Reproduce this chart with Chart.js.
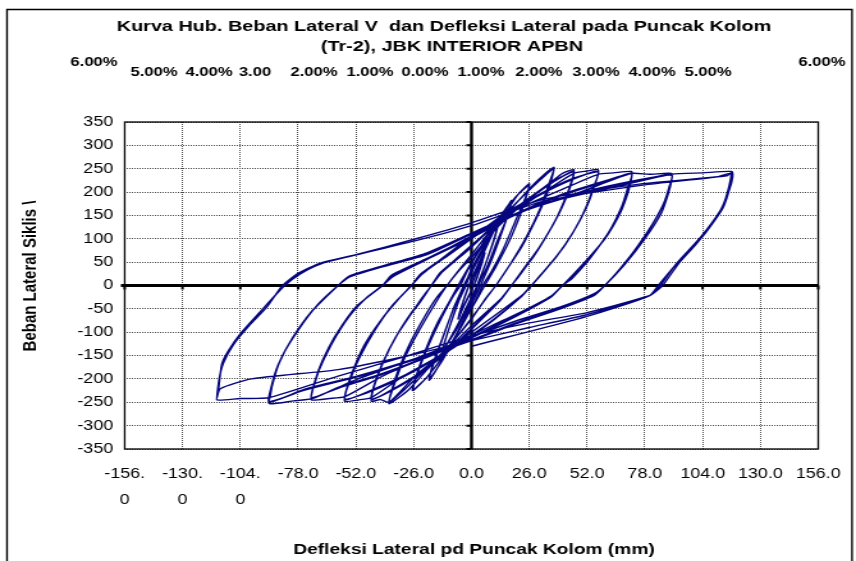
<!DOCTYPE html>
<html>
<head>
<meta charset="utf-8">
<title>Kurva Hub. Beban Lateral V dan Defleksi Lateral</title>
<script src="https://cdn.jsdelivr.net/npm/chart.js@4.4.1/dist/chart.umd.min.js"></script>
<style>
  html, body { margin: 0; padding: 0; background: #fff; }
</style>
</head>
<body>
<canvas id="grafik" width="669" height="561" style="display:block;width:856px;height:561px"></canvas>
<script>
// data: [defleksi (mm), beban (kN)], per tingkat amplitudo
const siklus1 = [[0,0],[3,35],[6,70],[4.5,45],[2,10],[0,-10],[-3,-38],[-6,-72],[-4.5,-45],[-2,-10],[0,12],[3,40],[6,68],[4,38],[1.5,5],[0,-12],[-3,-40],[-6,-70],[-4,-38],[-1.5,-5]];
const siklus2 = [[0,15],[6,75],[12,135],[10.5,105],[7,55],[3,5],[0,-25],[-6,-82],[-13,-140],[-11,-105],[-7,-50],[-3,0],[0,28],[6,82],[12,132],[10,95],[6,42],[2.5,0],[0,-30],[-6,-88],[-13,-138],[-10.5,-98],[-6.5,-42],[-2.5,0]];
const siklus3 = [[0,30],[7,92],[13,142],[18,182],[17,160],[14,118],[9.5,60],[4.5,5],[1,-30],[-5,-88],[-12,-150],[-19,-203],[-17.5,-170],[-13.5,-118],[-8.5,-55],[-3.5,0],[0,32],[7,97],[13,147],[18,180],[16,145],[12,100],[7.5,45],[3,0],[0,-36],[-6,-100],[-13,-160],[-19,-200],[-16.5,-160],[-12,-100],[-7.5,-42],[-3,0]];
const siklus4 = [[0,36],[8,102],[16,160],[21,195],[26,218],[25,195],[22,152],[17,95],[11,40],[6,0],[3,-25],[-4,-82],[-12,-146],[-20,-196],[-26.5,-225],[-25,-195],[-21,-142],[-15.5,-82],[-10,-35],[-6,0],[-3,25],[4,82],[12,142],[20,190],[26,215],[24,185],[19.5,135],[14,75],[9,30],[5,0],[2,-30],[-5,-92],[-13,-152],[-20,-196],[-26,-222],[-24,-185],[-19,-125],[-13,-65],[-8.5,-25],[-5,0]];
const siklus5 = [[-2,30],[5,85],[14,142],[22,186],[30,226],[37,253],[36.5,236],[34,196],[29,142],[22.5,82],[16,35],[11,0],[7,-25],[0,-70],[-10,-130],[-20,-180],[-28,-222],[-37,-253],[-36,-226],[-33,-182],[-27.5,-122],[-20.5,-62],[-15.5,-25],[-11,0],[-7,25],[0,66],[10,126],[20,176],[30,222],[37,250],[35,220],[31,166],[24.5,102],[17.5,46],[11,0],[6,-30],[0,-72],[-10,-128],[-20,-176],[-30,-222],[-37,-250],[-35,-216],[-30.5,-160],[-23.5,-96],[-16.5,-40],[-11,0]];
const siklus6 = [[-6,30],[0,60],[12,126],[25,182],[37,226],[41,240],[46,248],[45.5,230],[43,196],[38,142],[30.5,82],[23.5,36],[18,0],[14,-25],[0,-86],[-12,-142],[-25,-192],[-37,-250],[-41,-244],[-45,-248],[-44.5,-228],[-42,-190],[-36.5,-132],[-29.5,-76],[-23,-35],[-18,0],[-14,25],[0,82],[12,136],[25,182],[37,222],[46,245],[44.5,216],[41,170],[35,116],[28,62],[22,25],[18,0],[13,-30],[0,-92],[-12,-146],[-25,-192],[-37,-226],[-45,-245],[-44,-216],[-40,-166],[-34,-110],[-27,-60],[-22,-25],[-18,0],[-14,28],[0,84],[12,138],[25,184],[37,224],[46,243],[44.5,212],[40.5,165],[34.5,112],[27.5,60],[22,24],[18,0],[13,-32],[0,-94],[-12,-148],[-25,-194],[-37,-228],[-45,-243],[-43.5,-212],[-39.5,-162],[-33.5,-106],[-27,-58],[-21.5,-24],[-18,0]];
const siklus7 = [[-13,30],[0,86],[15,146],[30,192],[46,240],[52,245],[57,248],[56.5,230],[54,196],[49,142],[42,86],[34,38],[27,0],[23,-20],[10,-66],[0,-100],[-15,-152],[-30,-192],[-45,-240],[-51,-245],[-57,-248],[-56.5,-228],[-54,-190],[-48.5,-130],[-41,-76],[-33,-30],[-27,0],[-23,22],[-10,66],[0,100],[15,152],[30,192],[45,226],[57,245],[55.5,216],[52,170],[46,116],[38,60],[31,22],[27,0],[22,-25],[10,-72],[0,-106],[-15,-152],[-30,-192],[-45,-224],[-57,-245],[-55.5,-212],[-51,-160],[-44,-100],[-36,-45],[-27,0],[-23,24],[-10,68],[0,102],[15,154],[30,194],[45,228],[57,243],[55,212],[51.5,166],[45.5,112],[37.5,58],[31,22],[27,0],[22,-26],[10,-74],[0,-108],[-15,-154],[-30,-194],[-45,-226],[-57,-243],[-55,-208],[-50.5,-156],[-43.5,-96],[-35.5,-42],[-27,0]];
const siklus8 = [[-22,25],[-10,70],[0,106],[20,162],[40,204],[57,238],[64,241],[72,244],[72,230],[70.5,200],[67,156],[60,100],[50,45],[41,0],[36,-22],[20,-62],[0,-106],[-20,-152],[-40,-194],[-57,-238],[-64,-242],[-72,-245],[-71.5,-225],[-69,-186],[-63,-126],[-55,-66],[-47,-25],[-40,0],[-36,20],[-20,56],[0,102],[20,152],[40,192],[60,222],[72,241],[71,215],[68,172],[62,116],[53,56],[45,15],[41,0],[36,-22],[20,-64],[0,-110],[-20,-152],[-40,-188],[-60,-218],[-72,-242],[-70.5,-206],[-67,-160],[-61,-106],[-52,-46],[-40,0],[-36,22],[-20,58],[0,104],[20,154],[40,194],[60,224],[72,239],[70.5,212],[67.5,168],[61.5,112],[52.5,54],[45,14],[41,0],[36,-24],[20,-66],[0,-112],[-20,-154],[-40,-190],[-60,-220],[-72,-240],[-70,-202],[-66.5,-156],[-60.5,-102],[-51.5,-44],[-40,0]];
const siklus9 = [[-35,20],[-20,56],[0,106],[25,162],[50,202],[72,240],[80,238],[90,240],[90,225],[88.5,196],[85.5,156],[78,100],[69,45],[60,0],[55,-18],[40,-46],[20,-76],[0,-110],[-25,-156],[-50,-198],[-72,-242],[-80,-247],[-91,-253],[-90.5,-236],[-89,-200],[-85,-150],[-78,-96],[-69,-40],[-60,0],[-55,18],[-40,40],[-20,66],[0,110],[25,162],[50,198],[75,224],[90,238],[89.5,216],[87,180],[82,136],[75,86],[67,36],[60,0],[55,-20],[40,-48],[20,-80],[0,-116],[-25,-156],[-50,-192],[-75,-222],[-91,-250],[-90,-216],[-87,-170],[-81,-116],[-72,-56],[-60,0],[-55,20],[-40,42],[-20,68],[0,112],[25,164],[50,200],[75,226],[90,236],[89,212],[86.5,176],[81.5,132],[74.5,82],[66.5,34],[60,0],[55,-22],[40,-50],[20,-82],[0,-118],[-25,-158],[-50,-194],[-75,-224],[-91,-248],[-89.5,-212],[-86.5,-166],[-80.5,-112],[-71.5,-54],[-60,0]];
const siklus10 = [[-55,20],[-40,42],[-20,70],[0,112],[30,172],[60,206],[90,238],[104,241],[117,244],[117.5,232],[116,205],[112,161],[103,103],[92,46],[85,0],[82,-15],[80,-22],[52,-58],[26,-80],[0,-108],[-30,-152],[-60,-194],[-91,-240],[-104,-242],[-114.5,-245],[-114,-231],[-112.3,-168],[-109.3,-139],[-103.4,-100],[-96,-61],[-84,0],[-77,25],[-68,46],[-55,62],[-25,96],[0,128],[32,180],[77,215],[110,232],[116.5,240],[116,215],[113,170],[108,130],[101,88],[93,46],[86,0],[80,-22],[52,-62],[26,-90],[0,-118],[-30,-152],[-60,-180],[-99,-200],[-113,-221],[-114.5,-240],[-113.5,-200],[-111.5,-165],[-107,-126],[-100,-86],[-92,-46],[-85,0],[-78,26],[-68,48],[-52,66],[-25,100],[0,134],[32,184],[77,218],[115,235],[117,242],[116.5,215],[113,165],[104,105],[92,45],[84,0],[80,-22],[52,-66],[0,-130]];

const labelX = [['-156.', '0'], ['-130.', '0'], ['-104.', '0'], '-78.0', '-52.0', '-26.0', '0.0', '26.0', '52.0', '78.0', '104.0', '130.0', '156.0'];
const labelDrift = ['6.00%', '5.00%', '4.00%', '3.00', '2.00%', '1.00%', '0.00%', '1.00%', '2.00%', '3.00%', '4.00%', '5.00%', '6.00%'];
const judul = ['Kurva Hub. Beban Lateral V  dan Defleksi Lateral pada Puncak Kolom', '(Tr-2), JBK INTERIOR APBN'];
const judulX = 'Defleksi Lateral pd Puncak Kolom (mm)';
const judulY = 'Beban Lateral Siklis \\';

const semuaSiklus = [siklus1, siklus2, siklus3, siklus4, siklus5, siklus6, siklus7, siklus8, siklus9, siklus10];
const titik = semuaSiklus.flat().map(p => ({ x: p[0], y: p[1] }));

// gambar asli melebar secara horizontal, jadi kanvas dibuat lebih sempit lalu direntangkan
const REGANG = 856 / 669;
const px = (x) => x / REGANG;
const FONT = '"Liberation Sans", Arial, sans-serif';
const posDrift = [94, 154, 209, 255, 314, 370, 425, 481, 539, 596, 652, 708, 822];

const hiasan = {
  id: 'hiasan',
  beforeDatasetsDraw(chart) {
    const { ctx, chartArea: a, scales: { x, y } } = chart;
    const x0 = x.getPixelForValue(0);
    const y0 = y.getPixelForValue(0);
    ctx.save();
    ctx.strokeStyle = '#000';
    ctx.lineWidth = 2.4;
    ctx.beginPath();
    ctx.moveTo(x0, a.top);
    ctx.lineTo(x0, a.bottom);
    ctx.stroke();
    ctx.lineWidth = 3;
    ctx.beginPath();
    ctx.moveTo(a.left - 3, y0);
    ctx.lineTo(a.right, y0);
    ctx.stroke();
    // tanda tick di sumbu nol
    ctx.lineWidth = 2;
    ctx.beginPath();
    y.ticks.forEach(t => {
      const py = y.getPixelForValue(t.value);
      ctx.moveTo(x0 - 4, py);
      ctx.lineTo(x0, py);
    });
    x.ticks.forEach(t => {
      const pxl = x.getPixelForValue(t.value);
      ctx.moveTo(pxl, y0);
      ctx.lineTo(pxl, y0 + 4);
    });
    ctx.stroke();
    ctx.restore();
  },
  afterDraw(chart) {
    const { ctx, chartArea: a } = chart;
    ctx.save();
    ctx.strokeStyle = '#000';
    ctx.lineWidth = 1.3;
    ctx.strokeRect(a.left, a.top, a.right - a.left, a.bottom - a.top);

    // bingkai luar
    ctx.lineWidth = 1.4;
    ctx.beginPath();
    ctx.moveTo(px(7), 561);
    ctx.lineTo(px(7), 9.5);
    ctx.lineTo(px(852), 9.5);
    ctx.lineTo(px(852), 561);
    ctx.stroke();

    ctx.fillStyle = '#000';
    ctx.textAlign = 'center';
    ctx.textBaseline = 'middle';
    ctx.font = 'bold 15.5px ' + FONT;
    ctx.fillText(judul[0], px(444), 27);
    ctx.fillText(judul[1], px(452), 47);

    ctx.font = 'bold 13px ' + FONT;
    const akhir = labelDrift.length - 1;
    labelDrift.forEach((teks, i) => {
      const yy = (i === 0 || i === akhir) ? 62 : 72;
      if (i === akhir) {
        const w = ctx.measureText(teks).width;
        ctx.fillStyle = '#fff';
        ctx.fillRect(px(posDrift[i]) - w / 2 - 1, yy - 9, w + 2, 18);
        ctx.fillStyle = '#000';
      }
      ctx.fillText(teks, px(posDrift[i]), yy);
    });

    ctx.font = 'bold 15px ' + FONT;
    ctx.fillText(judulX, px(474), 550);
    ctx.save();
    ctx.translate(px(30), 276);
    ctx.rotate(-Math.PI / 2);
    ctx.fillText(judulY, 0, 0);
    ctx.restore();
    ctx.restore();
  }
};

const kanvas = document.getElementById('grafik');
new Chart(kanvas, {
  type: 'scatter',
  data: {
    datasets: [{
      data: titik,
      showLine: true,
      borderColor: '#06067e',
      borderWidth: 1.4,
      pointRadius: 0,
      tension: 0.2,
      fill: false
    }]
  },
  options: {
    responsive: false,
    animation: false,
    devicePixelRatio: 1,
    layout: { padding: { top: 122, right: 21.5, left: 0, bottom: 0 } },
    plugins: { legend: { display: false }, tooltip: { enabled: false } },
    scales: {
      x: {
        type: 'linear',
        min: -156,
        max: 156,
        ticks: {
          stepSize: 26,
          autoSkip: false,
          maxRotation: 0,
          padding: 12,
          color: '#000',
          font: { family: FONT, size: 14, lineHeight: 1.85 },
          callback: (v, i) => labelX[i]
        },
        grid: { color: '#4a4a4a', lineWidth: 1, drawTicks: false },
        border: { display: false, dash: [1, 1] },
        afterFit: (s) => { s.height = 112; }
      },
      y: {
        type: 'linear',
        min: -350,
        max: 350,
        ticks: {
          stepSize: 50,
          autoSkip: false,
          padding: 9,
          color: '#000',
          font: { family: FONT, size: 14 },
          callback: (v) => String(v)
        },
        grid: { color: '#4a4a4a', lineWidth: 1, drawTicks: false },
        border: { display: false, dash: [1, 1] },
        afterFit: (s) => { s.width = 97.45; }
      }
    }
  },
  plugins: [hiasan]
});
kanvas.style.width = '856px';
kanvas.style.height = '561px';
</script>
</body>
</html>
